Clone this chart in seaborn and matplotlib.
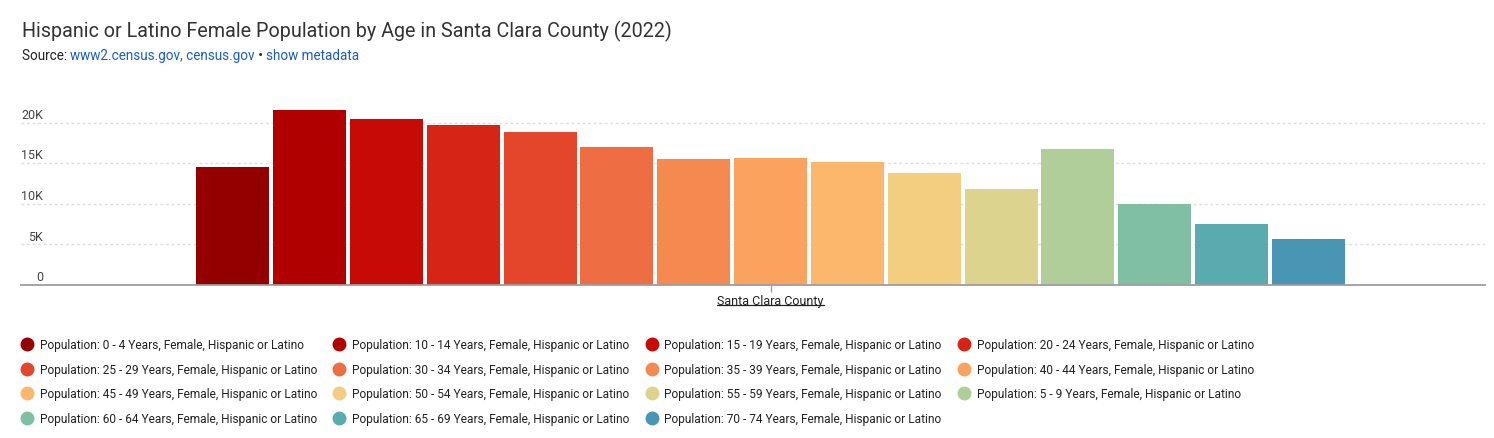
import matplotlib
matplotlib.use("Agg")
import matplotlib.pyplot as plt
import matplotlib.transforms as mtransforms
from matplotlib.lines import Line2D
import seaborn as sns
import pandas as pd

# ---------------- data ----------------
county = "Santa Clara County"
age_groups = ["0 - 4", "10 - 14", "15 - 19", "20 - 24", "25 - 29", "30 - 34",
              "35 - 39", "40 - 44", "45 - 49", "50 - 54", "55 - 59", "5 - 9",
              "60 - 64", "65 - 69", "70 - 74"]
population = [14500, 21600, 20400, 19700, 18900, 17000, 15500, 15700,
              15200, 13750, 11800, 16800, 9950, 7550, 5650]
colors = ["#940000", "#b00000", "#c60a06", "#d62417", "#e4462c", "#ef6d43",
          "#f58a51", "#faa35e", "#fbb86c", "#f3cd80", "#dbd38e", "#afce99",
          "#80bfa4", "#5aabb0", "#4896b4"]
y_ticks = [0, 5000, 10000, 15000, 20000]
y_tick_labels = ["0", "5K", "10K", "15K", "20K"]

series = [f"Population: {a} Years, Female, Hispanic or Latino" for a in age_groups]
df = pd.DataFrame({"county": [county] * len(series), "series": series,
                   "population": population})

# ---------------- style ----------------
sns.set_theme(style="white")
plt.rcParams["font.family"] = ["Roboto", "DejaVu Sans"]

W, H = 1494, 439
fig = plt.figure(figsize=(W / 100, H / 100), dpi=100)
ax = fig.add_axes([21 / W, 1 - 286 / H, 1464 / W, 191 / H])

sns.barplot(data=df, x="county", y="population", hue="series",
            hue_order=series, palette=colors, width=0.7874, gap=0.05,
            linewidth=0, saturation=1, legend=False, ax=ax, zorder=3)

ax.set_xlim(-0.512, 0.488)
ax.set_ylim(0, 23520)
ax.set_xlabel("")
ax.set_ylabel("")

# grid
ax.set_yticks(y_ticks)
ax.yaxis.grid(True, color="#dedede", linestyle=(0, (2, 2)), linewidth=1, zorder=0)
ax.set_axisbelow(True)
for s in ["top", "right", "left"]:
    ax.spines[s].set_visible(False)
ax.spines["bottom"].set_color("#9e9e9e")
ax.spines["bottom"].set_linewidth(1.3)
ax.spines["bottom"].set_zorder(5)

ax.tick_params(axis="y", length=0, labelleft=False)
trans = mtransforms.offset_copy(
    mtransforms.blended_transform_factory(ax.transAxes, ax.transData),
    fig=fig, x=0, y=3.5, units="points")
for v, lab in zip(y_ticks, y_tick_labels):
    ax.text(0.015, v, lab, transform=trans, ha="right", va="baseline",
            fontsize=9, color="#444444")

ax.tick_params(axis="x", length=5, width=1, color="#9e9e9e", pad=1.5,
               labelsize=9, labelcolor="#222222", bottom=True)

# ---------------- titles ----------------
fig.text(22 / W, 1 - 37 / H, "Hispanic or Latino Female Population by Age in Santa Clara County (2022)",
         fontsize=14.2, color="#333333", va="baseline", ha="left")

fig.canvas.draw()
renderer = fig.canvas.get_renderer()
x = 22
parts = [("Source: ", "#222222"), ("www2.census.gov, census.gov", "#1a5dc8"),
         (" \u2022 ", "#222222"), ("show metadata", "#1a5dc8")]
for txt, col in parts:
    t = fig.text(x / W, 1 - 60 / H, txt, fontsize=9.75, color=col, va="baseline", ha="left")
    bb = t.get_window_extent(renderer)
    x = bb.x1

# ---------------- legend ----------------
handles = [Line2D([], [], marker="o", linestyle="", markersize=9,
                  markerfacecolor=c, markeredgecolor=c) for c in colors]
order = [0, 4, 8, 12, 1, 5, 9, 13, 2, 6, 10, 14, 3, 7, 11]
fig.legend([handles[i] for i in order], [series[i] for i in order],
           ncol=4, loc="upper left", bbox_to_anchor=(21 / W, 1 - 339.5 / H),
           frameon=False, fontsize=8.6, handlelength=1.0, handletextpad=0.55,
           columnspacing=1.38, labelspacing=0.96, borderpad=0, borderaxespad=0,
           labelcolor="#222222")

# underline the category label
fig.canvas.draw()
for lab in ax.get_xticklabels():
    bb = lab.get_window_extent(renderer)
    yy = bb.y0 + 2
    fig.add_artist(Line2D([bb.x0 / W, bb.x1 / W], [yy / H, yy / H],
                          transform=fig.transFigure, color="#222222", linewidth=0.9))

fig.savefig("out.png", dpi=100)
